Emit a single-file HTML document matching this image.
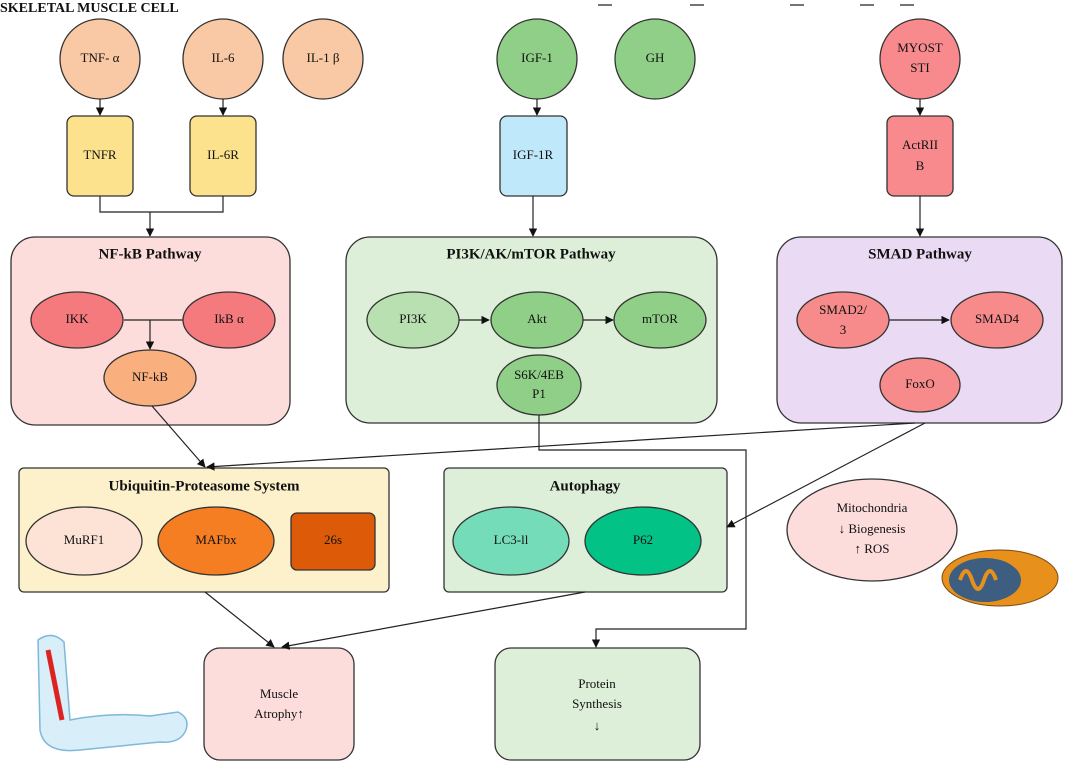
<!DOCTYPE html>
<html><head><meta charset="utf-8"><style>
html,body{margin:0;padding:0;background:#fff;}
svg{display:block;font-family:"Liberation Serif",serif;}
text{font-size:13px;fill:#111;text-anchor:middle;dominant-baseline:middle;}
.b{font-weight:bold;font-size:15px;}
.s{stroke:#333;stroke-width:1.3;}
.l{stroke:#222;stroke-width:1.2;fill:none;}
</style></head><body>
<svg width="1065" height="764" viewBox="0 0 1065 764">
<defs><marker id="a" viewBox="0 0 10 10" refX="9" refY="5" markerWidth="7" markerHeight="7" orient="auto"><path d="M0,0L10,5L0,10z" fill="#111"/></marker></defs>
<text x="0" y="9" class="b" style="text-anchor:start;font-size:14px">SKELETAL MUSCLE CELL</text>
<g class="l" stroke-width="1"><path d="M598 5h14M690 5h14M790 5h14M860 5h14M900 5h14"/></g>
<!-- top circles -->
<g class="s">
<circle cx="100" cy="59" r="40" fill="#f9c8a4"/>
<circle cx="223" cy="59" r="40" fill="#f9c8a4"/>
<circle cx="323" cy="59" r="40" fill="#f9c8a4"/>
<circle cx="537" cy="59" r="40" fill="#90cf87"/>
<circle cx="655" cy="59" r="40" fill="#90cf87"/>
<circle cx="920" cy="59" r="40" fill="#f88a8e"/>
<rect x="67" y="116" width="66" height="80" rx="7" fill="#fde28e"/>
<rect x="190" y="116" width="66" height="80" rx="7" fill="#fde28e"/>
<rect x="500" y="116" width="67" height="80" rx="7" fill="#bfe8fb"/>
<rect x="887" y="116" width="66" height="80" rx="7" fill="#f88a8e"/>
</g>
<text x="100" y="59">TNF- α</text><text x="223" y="59">IL-6</text><text x="323" y="59">IL-1 β</text>
<text x="537" y="59">IGF-1</text><text x="655" y="59">GH</text>
<text x="920" y="49">MYOST</text><text x="920" y="69">STI</text>
<text x="100" y="156">TNFR</text><text x="223" y="156">IL-6R</text><text x="533" y="156">IGF-1R</text>
<text x="920" y="146">ActRII</text><text x="920" y="167">B</text>
<g class="l">
<path d="M100 99V115" marker-end="url(#a)"/><path d="M223 99V115" marker-end="url(#a)"/>
<path d="M537 99V115" marker-end="url(#a)"/><path d="M920 99V115" marker-end="url(#a)"/>
<path d="M100 196V212H223V196"/><path d="M150 212V236" marker-end="url(#a)"/>
<path d="M533 196V236" marker-end="url(#a)"/><path d="M920 196V236" marker-end="url(#a)"/>
</g>
<!-- pathway boxes -->
<g class="s">
<rect x="11" y="237" width="279" height="188" rx="24" fill="#fddcdc"/>
<rect x="346" y="237" width="371" height="186" rx="24" fill="#ddefd8"/>
<rect x="777" y="237" width="285" height="186" rx="24" fill="#eadaf3"/>
</g>
<text x="150" y="255" class="b">NF-kB Pathway</text>
<text x="531" y="255" class="b">PI3K/AK/mTOR Pathway</text>
<text x="920" y="255" class="b">SMAD Pathway</text>
<g class="l"><path d="M124 320H183"/><path d="M150 320V349" marker-end="url(#a)"/>
<path d="M459 320H489" marker-end="url(#a)"/><path d="M583 320H613" marker-end="url(#a)"/>
<path d="M889 320H949" marker-end="url(#a)"/></g>
<g class="s">
<ellipse cx="77" cy="320" rx="46" ry="28" fill="#f47a7e"/>
<ellipse cx="229" cy="320" rx="46" ry="28" fill="#f47a7e"/>
<ellipse cx="150" cy="378" rx="46" ry="28" fill="#f9b07e"/>
<ellipse cx="413" cy="320" rx="46" ry="28" fill="#b9e0b1"/>
<ellipse cx="537" cy="320" rx="46" ry="28" fill="#90cf87"/>
<ellipse cx="660" cy="320" rx="46" ry="28" fill="#90cf87"/>
<ellipse cx="539" cy="385" rx="42" ry="30" fill="#90cf87"/>
<ellipse cx="843" cy="320" rx="46" ry="28" fill="#f78a8a"/>
<ellipse cx="997" cy="320" rx="46" ry="28" fill="#f78a8a"/>
<ellipse cx="920" cy="385" rx="40" ry="27" fill="#f78a8a"/>
</g>
<text x="77" y="320">IKK</text><text x="229" y="320">IkB α</text><text x="150" y="378">NF-kB</text>
<text x="413" y="320">PI3K</text><text x="537" y="320">Akt</text><text x="660" y="320">mTOR</text>
<text x="539" y="376">S6K/4EB</text><text x="539" y="395">P1</text>
<text x="843" y="311">SMAD2/</text><text x="843" y="331">3</text><text x="997" y="320">SMAD4</text><text x="920" y="385">FoxO</text>
<!-- lower boxes -->
<g class="s">
<rect x="19" y="468" width="370" height="124" rx="5" fill="#fdf1cc"/>
<rect x="444" y="468" width="283" height="124" rx="5" fill="#ddefd8"/>
<ellipse cx="84" cy="541" rx="58" ry="34" fill="#fde3d6"/>
<ellipse cx="216" cy="541" rx="58" ry="34" fill="#f57e23"/>
<rect x="291" y="513" width="84" height="57" rx="6" fill="#dd5a08"/>
<ellipse cx="511" cy="541" rx="58" ry="34" fill="#74dcb8"/>
<ellipse cx="643" cy="541" rx="58" ry="34" fill="#03c285"/>
<ellipse cx="872" cy="530" rx="85" ry="51" fill="#fddcdc"/>
<rect x="204" y="648" width="150" height="112" rx="16" fill="#fddcdc"/>
<rect x="495" y="648" width="205" height="112" rx="16" fill="#ddefd8"/>
</g>
<text x="204" y="487" class="b">Ubiquitin-Proteasome System</text>
<text x="585" y="487" class="b">Autophagy</text>
<text x="84" y="541">MuRF1</text><text x="216" y="541">MAFbx</text><text x="333" y="541">26s</text>
<text x="511" y="541">LC3-ll</text><text x="643" y="541">P62</text>
<text x="872" y="509">Mitochondria</text><text x="872" y="530">↓ Biogenesis</text><text x="872" y="550">↑ ROS</text>
<text x="279" y="695">Muscle</text><text x="279" y="715">Atrophy↑</text>
<text x="597" y="685">Protein</text><text x="597" y="705">Synthesis</text><text x="597" y="727">↓</text>
<g class="l">
<path d="M152 406L205 467" marker-end="url(#a)"/>
<path d="M915 423L207 467" marker-end="url(#a)"/>
<path d="M925 423L727 527" marker-end="url(#a)"/>
<path d="M539 415V450H746V629H596V647" marker-end="url(#a)"/>
<path d="M205 592L274 647" marker-end="url(#a)"/>
<path d="M585 592L282 647" marker-end="url(#a)"/>
</g>
<!-- arm -->
<g stroke="#7fb8d8" stroke-width="1.5">
<path d="M38 640Q52 630 64 642L70 720Q110 712 150 716L178 712Q190 718 186 730Q180 744 160 742L80 750Q44 754 40 730Z" fill="#d8eef8"/>
<path d="M48 650L62 720" stroke="#d22" stroke-width="5"/>
</g>
<!-- mitochondria -->
<ellipse cx="1000" cy="578" rx="58" ry="28" fill="#e8901c" stroke="#7a4a10"/>
<ellipse cx="985" cy="580" rx="36" ry="22" fill="#3d5e80"/>
<path d="M960 580q6-18 12 0t12 0 12 0" stroke="#e8901c" stroke-width="4" fill="none"/>
</svg>
</body></html>
